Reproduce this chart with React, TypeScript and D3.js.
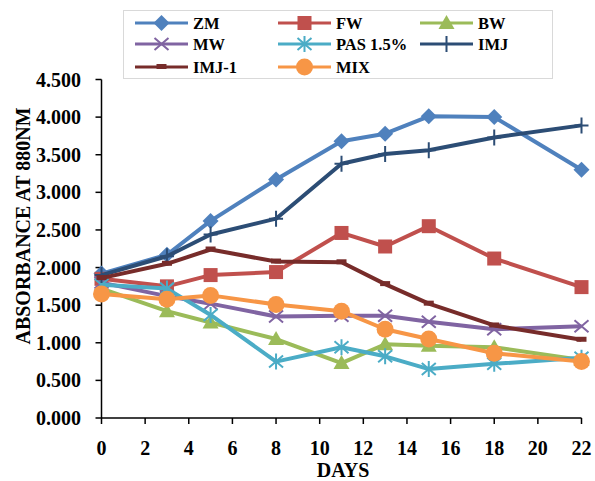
import React from "react";
import * as d3 from "d3";

const days = [0, 3, 5, 8, 11, 13, 15, 18, 22];
const seriesNames = ["ZM", "FW", "BW", "MW", "PAS 1.5%", "IMJ", "IMJ-1", "MIX"];
const zm = [1.92, 2.17, 2.62, 3.17, 3.68, 3.78, 4.01, 4.0, 3.3];
const fw = [1.85, 1.75, 1.9, 1.94, 2.46, 2.28, 2.55, 2.12, 1.74];
const bw = [1.72, 1.42, 1.27, 1.05, 0.73, 0.98, 0.96, 0.94, 0.77];
const mw = [1.8, 1.62, 1.52, 1.35, 1.36, 1.36, 1.28, 1.18, 1.22];
const pas = [1.77, 1.72, 1.37, 0.75, 0.94, 0.82, 0.65, 0.72, 0.8];
const imj = [1.9, 2.15, 2.44, 2.65, 3.38, 3.51, 3.56, 3.73, 3.89];
const imj1 = [1.86, 2.05, 2.24, 2.08, 2.07, 1.78, 1.52, 1.23, 1.04];
const mix = [1.65, 1.58, 1.63, 1.51, 1.42, 1.18, 1.05, 0.86, 0.75];
const xTicks = [0, 2, 4, 6, 8, 10, 12, 14, 16, 18, 20, 22];
const yTicks = [0, 0.5, 1, 1.5, 2, 2.5, 3, 3.5, 4, 4.5];

const colors = ["#4F81BD", "#C0504D", "#9BBB59", "#8064A2", "#4BACC6", "#2C4D75", "#772C2A", "#F79646"];
const markers = ["diamond", "square", "triangle", "x", "star", "plus", "dash", "circle"];
const values = [zm, fw, bw, mw, pas, imj, imj1, mix];

const font = "'Liberation Serif', 'Times New Roman', serif";

function Marker({ type, x, y, color }: { type: string; x: number; y: number; color: string }) {
  switch (type) {
    case "diamond":
      return <path d={`M${x},${y - 8}L${x + 8},${y}L${x},${y + 8}L${x - 8},${y}Z`} fill={color} />;
    case "square":
      return <rect x={x - 7} y={y - 7} width={14} height={14} fill={color} />;
    case "triangle":
      return <path d={`M${x},${y - 8}L${x + 8},${y + 6}L${x - 8},${y + 6}Z`} fill={color} />;
    case "x":
      return (
        <path d={`M${x - 7},${y - 6}L${x + 7},${y + 6}M${x - 7},${y + 6}L${x + 7},${y - 6}`} stroke={color} strokeWidth={2} />
      );
    case "star":
      return (
        <path
          d={`M${x - 7},${y - 6}L${x + 7},${y + 6}M${x - 7},${y + 6}L${x + 7},${y - 6}M${x},${y - 8}L${x},${y + 8}`}
          stroke={color}
          strokeWidth={2}
        />
      );
    case "plus":
      return <path d={`M${x - 7},${y}L${x + 7},${y}M${x},${y - 8}L${x},${y + 8}`} stroke={color} strokeWidth={2} />;
    case "dash":
      return <rect x={x - 5} y={y - 3} width={10} height={5} fill={color} />;
    case "circle":
      return <circle cx={x} cy={y} r={8.5} fill={color} />;
  }
  return null;
}

export default function App() {
  const W = 595;
  const H = 481;
  const x = d3.scaleLinear().domain([0, 22]).range([101.5, 581.5]);
  const y = d3.scaleLinear().domain([0, 4.5]).range([418, 79.5]);
  const line = d3
    .line<number>()
    .x((_, i) => x(days[i]))
    .y((d) => y(d));

  const legendCols = [135, 278, 420];
  const legendRows = [23, 44, 67];

  return (
    <svg width={W} height={H} style={{ position: "absolute", left: 0, top: 0 }}>
      <rect width={W} height={H} fill="#fff" />
      {/* axes */}
      <line x1={x(0)} x2={x(0)} y1={y(4.5)} y2={y(0)} stroke="#000" strokeWidth={1.5} />
      <line x1={x(0)} x2={x(22)} y1={y(0)} y2={y(0)} stroke="#000" strokeWidth={1.5} />
      {yTicks.map((t) => (
        <g key={t}>
          <line x1={x(0) - 6} x2={x(0)} y1={y(t)} y2={y(t)} stroke="#000" strokeWidth={1.5} />
          <text
            x={81}
            y={y(t)}
            dy="0.35em"
            textAnchor="end"
            fontFamily={font}
            fontWeight="bold"
            fontSize={20}
          >
            {d3.format(".3f")(t)}
          </text>
        </g>
      ))}
      {xTicks.map((t) => (
        <g key={t}>
          <line x1={x(t)} x2={x(t)} y1={y(0)} y2={y(0) + 6} stroke="#000" strokeWidth={1.5} />
          <text x={x(t)} y={455} textAnchor="middle" fontFamily={font} fontWeight="bold" fontSize={20}>
            {t}
          </text>
        </g>
      ))}
      <text x={343} y={477} textAnchor="middle" fontFamily={font} fontWeight="bold" fontSize={20}>
        DAYS
      </text>
      <text
        transform="translate(30,226) rotate(-90)"
        textAnchor="middle"
        fontFamily={font}
        fontWeight="bold"
        fontSize={20}
      >
        ABSORBANCE AT 880NM
      </text>
      {/* series */}
      {values.map((vals, si) => (
        <g key={seriesNames[si]}>
          <path d={line(vals) || ""} fill="none" stroke={colors[si]} strokeWidth={4} strokeLinejoin="round" />
          {vals.map((v, i) => (
            <Marker key={i} type={markers[si]} x={x(days[i])} y={y(v)} color={colors[si]} />
          ))}
        </g>
      ))}
      {/* legend */}
      <rect x={123.5} y={10.5} width={429} height={68} fill="#fff" stroke="#D9D9D9" strokeWidth={1} />
      {seriesNames.map((name, si) => {
        const cx = legendCols[si % 3];
        const cy = legendRows[Math.floor(si / 3)];
        return (
          <g key={name}>
            <line x1={cx} x2={cx + 53} y1={cy} y2={cy} stroke={colors[si]} strokeWidth={3} />
            <Marker type={markers[si]} x={cx + 26.5} y={cy} color={colors[si]} />
            <text x={cx + 58} y={cy} dy="0.35em" fontFamily={font} fontWeight="bold" fontSize={16.5}>
              {name}
            </text>
          </g>
        );
      })}
    </svg>
  );
}
